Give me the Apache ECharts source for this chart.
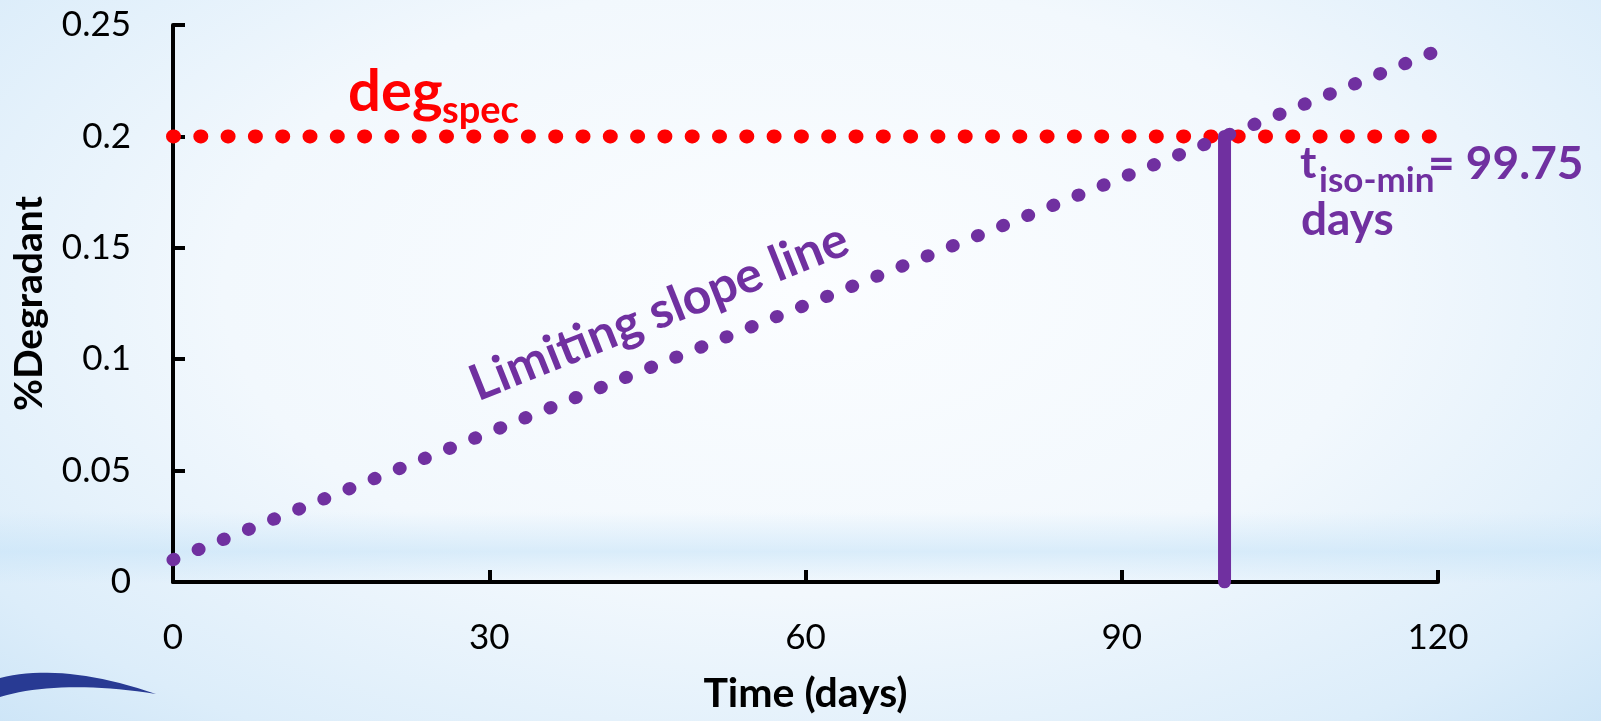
<!DOCTYPE html>
<html lang="en">
<head>
<meta charset="UTF-8">
<title>Limiting slope line</title>
<script src="https://cdn.jsdelivr.net/npm/echarts@6/dist/echarts.min.js"></script>
<style>
    html, body {
        margin: 0;
        padding: 0;
    }
    body {
        width: 1601px;
        height: 721px;
        overflow: hidden;
        background:
            linear-gradient(to bottom, rgba(255,255,255,0) 71%, rgba(200,228,248,0.6) 76.5%, rgba(255,255,255,0) 81%),
            radial-gradient(ellipse 72% 85% at 50% 40%, #fbfdff 0%, #f2f8fd 50%, #dcedfa 85%, #cde5f7 100%);
    }
    #chart {
        width: 1601px;
        height: 721px;
    }
</style>
</head>
<body>
<div id="chart"></div>
<script>
    // data
    var xTicks = [0, 30, 60, 90, 120];
    var specDays = [0, 120];
    var specLevel = [0.2, 0.2];          // deg spec
    var slopeDays = [0, 120];
    var slopeLevel = [0.01, 0.2386];     // limiting slope line
    var tIsoDays = [99.75, 99.75];
    var tIsoLevel = [0, 0.2];            // t iso-min marker

    var RED = '#ff0000';
    var PURPLE = '#7030a0';
    var FONT = 'Lato, "Open Sans", sans-serif';

    function pairs(xs, ys) {
        return xs.map(function (x, i) { return [x, ys[i]]; });
    }

    // text placed on its baseline (middle sits ~0.36em above it)
    function label(str, x, baseline, size, color) {
        return {
            type: 'text',
            x: x,
            y: baseline - size * 0.36,
            z: 10,
            style: {
                text: str,
                fill: color,
                font: 'bold ' + size + 'px ' + FONT,
                align: 'left',
                verticalAlign: 'middle'
            }
        };
    }

    // the blue swoosh in the corner, two quadratic edges
    function quad(p0, p1, p2, n) {
        var out = [];
        for (var i = 0; i <= n; i++) {
            var t = i / n, u = 1 - t;
            out.push([u * u * p0[0] + 2 * u * t * p1[0] + t * t * p2[0],
                      u * u * p0[1] + 2 * u * t * p1[1] + t * t * p2[1]]);
        }
        return out;
    }
    var swoosh = quad([0, 678], [62, 662], [156, 694], 20)
        .concat(quad([156, 694], [60, 679], [0, 697], 20));

    var graphics = [
        {
            type: 'polygon',
            z: 1,
            shape: { points: swoosh },
            style: { fill: '#283a93' }
        },
        label('deg', 348, 113, 58, RED),
        label('spec', 442, 124, 38, RED),
        label('t', 1300, 180, 44, PURPLE),
        label('iso-min', 1319, 193, 35, PURPLE),
        label('= 99.75', 1428, 181, 46, PURPLE),
        label('days', 1301, 237, 46, PURPLE),
        {
            type: 'text',
            x: 659,
            y: 312,
            rotation: 21.7 * Math.PI / 180,
            z: 10,
            style: {
                text: 'Limiting slope line',
                fill: PURPLE,
                font: 'bold 50px ' + FONT,
                align: 'center',
                verticalAlign: 'middle'
            }
        }
    ];

    var axisLine = { show: true, onZero: false, lineStyle: { color: '#000', width: 4 } };
    var axisTick = { show: true, inside: true, length: 12, lineStyle: { color: '#000', width: 4 } };

    var chart = echarts.init(document.getElementById('chart'));
    chart.setOption({
        backgroundColor: 'transparent',
        animation: false,
        grid: { left: 173, right: 163, top: 25, bottom: 139, containLabel: false },
        xAxis: {
            type: 'value',
            min: xTicks[0],
            max: xTicks[xTicks.length - 1],
            interval: 30,
            axisLine: axisLine,
            axisTick: axisTick,
            splitLine: { show: false },
            axisLabel: { color: '#000', fontSize: 35, fontFamily: FONT, margin: 38 },
            name: 'Time (days)',
            nameLocation: 'middle',
            nameGap: 91,
            nameTextStyle: { color: '#000', fontSize: 41, fontWeight: 'bold', fontFamily: FONT }
        },
        yAxis: {
            type: 'value',
            min: 0,
            max: 0.25,
            interval: 0.05,
            axisLine: axisLine,
            axisTick: axisTick,
            splitLine: { show: false },
            axisLabel: { color: '#000', fontSize: 35, fontFamily: FONT, margin: 42 },
            name: '%Degradant',
            nameLocation: 'middle',
            nameGap: 124,
            nameTextStyle: { color: '#000', fontSize: 39, fontWeight: 'bold', fontFamily: FONT }
        },
        series: [
            {
                name: 'deg spec',
                type: 'line',
                data: pairs(specDays, specLevel),
                symbol: 'none',
                lineStyle: { color: RED, width: 14, type: [1, 26.3], cap: 'round' }
            },
            {
                name: 'Limiting slope line',
                type: 'line',
                data: pairs(slopeDays, slopeLevel),
                symbol: 'none',
                lineStyle: { color: PURPLE, width: 13, type: [1, 26.1], cap: 'round' }
            },
            {
                name: 't iso-min',
                type: 'line',
                data: pairs(tIsoDays, tIsoLevel),
                symbol: 'none',
                lineStyle: { color: PURPLE, width: 13, cap: 'round' }
            }
        ],
        graphic: graphics
    });
</script>
</body>
</html>
